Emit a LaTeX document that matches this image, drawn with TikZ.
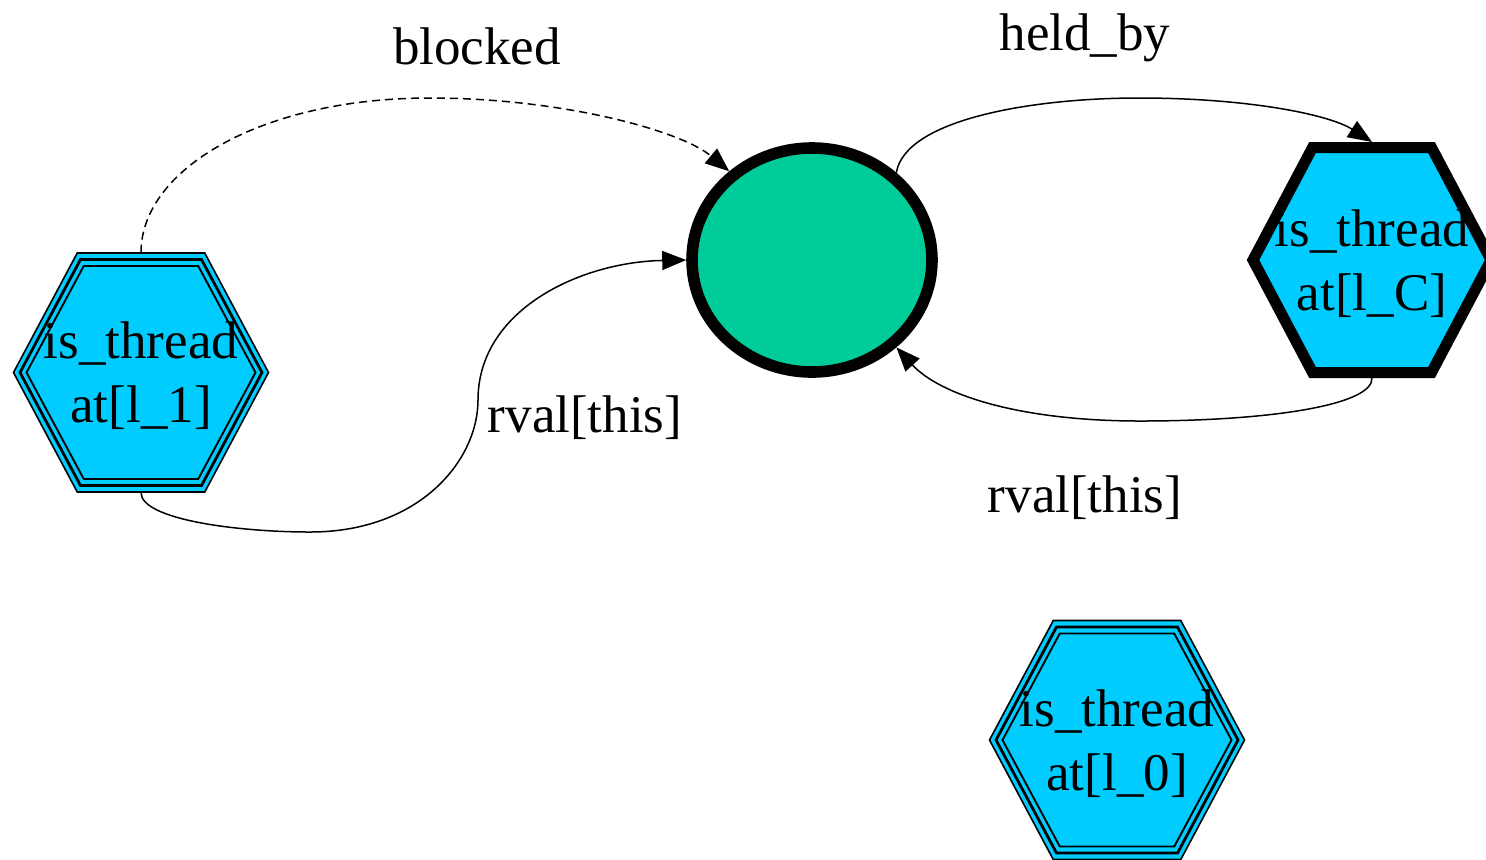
\documentclass[tikz,border=0pt]{standalone}
\usepackage{fontspec}
\setmainfont{Liberation Serif}
\usetikzlibrary{arrows.meta,backgrounds,shapes.geometric}
\definecolor{threadblue}{HTML}{00CCFF}
\definecolor{lockgreen}{HTML}{00CC99}
% hexagon with centre (#2,#3), half width #4 and half height #5
\newcommand\hexdraw[5][]{\path[#1] ({#2-#4},{#3}) -- ({#2-#4/2},{#3-#5}) -- ({#2+#4/2},{#3-#5}) -- ({#2+#4},{#3}) -- ({#2+#4/2},{#3+#5}) -- ({#2-#4/2},{#3+#5}) -- cycle;}
\begin{document}
\begin{tikzpicture}[x=0.5pt,y=-0.5pt,
  every node/.style={font=\fontsize{26.5pt}{32pt}\selectfont},
  thread/.style={rectangle, inner sep=0pt, outer sep=0pt, align=center, text depth=0pt,
    minimum width=127pt, minimum height=120pt},
  edge/.style={line width=0.75pt, -{Triangle[length=12pt,width=9.5pt]}},
  lbl/.style={anchor=base, inner sep=0pt},
  ring/.style={draw=black, line width=0.8pt},
]
\useasboundingbox (0,0) rectangle (1486,859);

% nodes
\node[thread] (l1) at (141,372.5) {is\_thread\\at[l\_1]};
\node[thread] (l0) at (1117,740) {is\_thread\\at[l\_0]};
\node[thread, minimum width=119pt, minimum height=112.5pt, outer sep=2.75pt] (lC) at (1372,260) {is\_thread\\at[l\_C]};
\node[ellipse, draw, line width=5.8pt, fill=lockgreen, minimum width=120pt, minimum height=112pt,
  outer sep=2.9pt, inner sep=0pt] (lock) at (812,260) {};

% hexagon outlines behind the thread labels
\begin{scope}[on background layer]
  \hexdraw[fill=threadblue, ring]{141}{372.5}{127.5}{119.5}
  \hexdraw[ring, line width=1.4pt]{141}{372.5}{121}{113}
  \hexdraw[ring, line width=0.95pt]{141}{372.5}{114.5}{106.5}
  \hexdraw[fill=threadblue, ring]{1117}{740}{127.5}{119.5}
  \hexdraw[ring, line width=1.4pt]{1117}{740}{121}{113}
  \hexdraw[ring, line width=0.95pt]{1117}{740}{114.5}{106.5}
  \hexdraw[fill=threadblue, draw=black, line width=5.5pt, miter limit=10]{1372}{260}{119}{112.5}
\end{scope}

% edges
\draw[edge, dash pattern=on 4pt off 2.5pt] (l1.north) .. controls (141,170) and (260,98) .. (430,98)
  .. controls (560,98) and (680,130) .. (lock.133);
\draw[edge] (l1.south) .. controls (141,520) and (240,532) .. (310,532)
  .. controls (420,532) and (478,460) .. (478,400)
  .. controls (478,310) and (580,262) .. (lock.west);
\draw[edge] (lock.46) .. controls (905,120) and (1030,98) .. (1139,98)
  .. controls (1250,98) and (1330,115) .. (lC.north);
\draw[edge] (lC.south) .. controls (1373,405) and (1270,421) .. (1140,421)
  .. controls (1020,421) and (940,395) .. (lock.-46);

% edge labels
\node[lbl] (lblocked) at (477,64) {blocked};
\node[lbl] (lheld) at (1085,50) {held\_by};
\node[lbl] (lrvalA) at (585,432) {rval[this]};
\node[lbl] (lrvalB) at (1085,512) {rval[this]};
\end{tikzpicture}
\end{document}
